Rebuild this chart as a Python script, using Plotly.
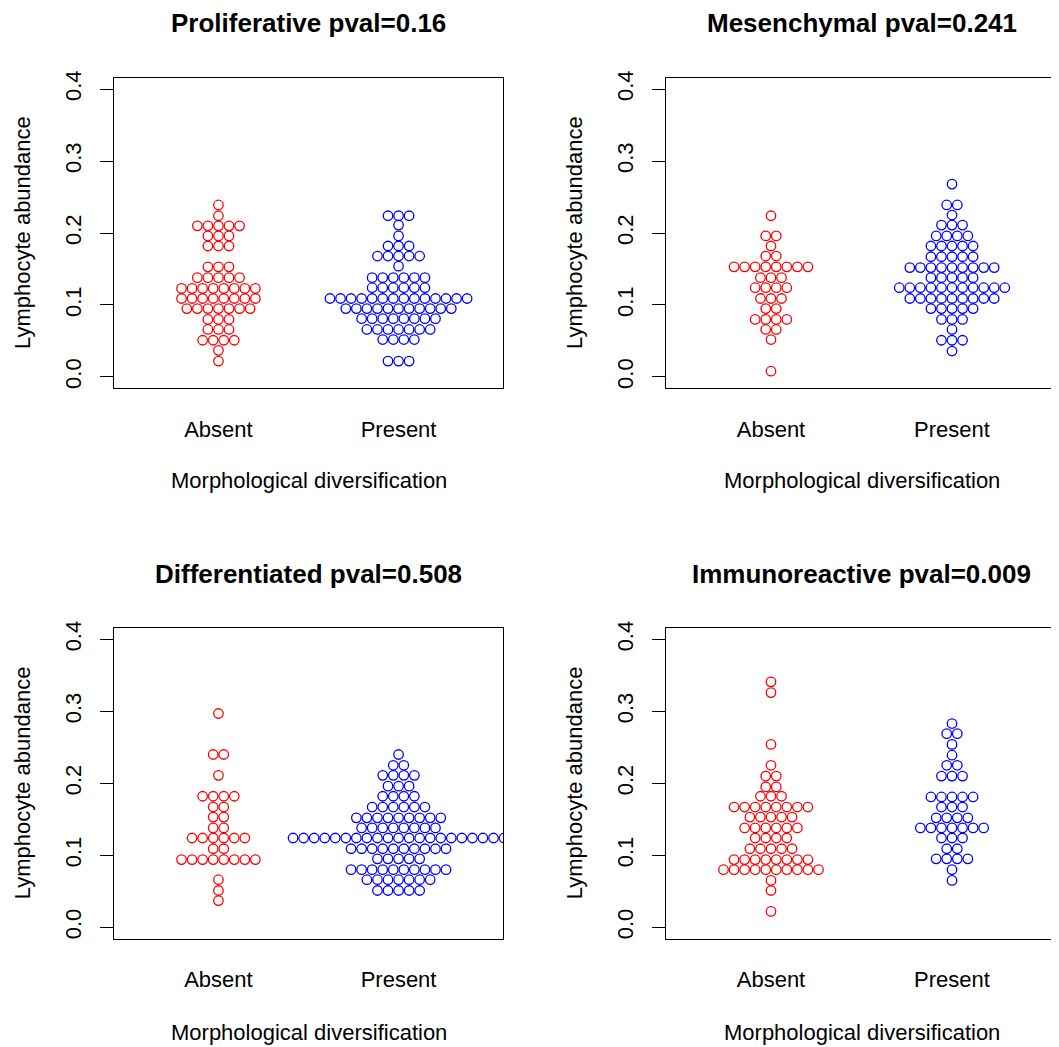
import plotly.graph_objects as go

# ---- data (binned beeswarm rows: y level and number of points in that row) ----
titles = ["Proliferative pval=0.16", "Mesenchymal pval=0.241",
          "Differentiated pval=0.508", "Immunoreactive pval=0.009"]
groups = ["Absent", "Present"]

prolif_absent_y = [0.239, 0.224, 0.210, 0.196, 0.182, 0.153, 0.138, 0.123, 0.109, 0.095, 0.080, 0.066, 0.051, 0.037, 0.022]
prolif_absent_n = [1, 1, 5, 3, 3, 3, 5, 8, 8, 7, 3, 3, 4, 1, 1]
prolif_present_y = [0.224, 0.211, 0.196, 0.182, 0.168, 0.154, 0.138, 0.124, 0.109, 0.095, 0.081, 0.066, 0.052, 0.022]
prolif_present_n = [3, 1, 1, 3, 5, 1, 6, 6, 14, 11, 8, 7, 4, 3]

mesen_absent_y = [0.224, 0.196, 0.182, 0.168, 0.153, 0.138, 0.124, 0.109, 0.095, 0.080, 0.066, 0.052, 0.008]
mesen_absent_n = [1, 2, 1, 2, 8, 3, 4, 3, 2, 4, 2, 1, 1]
mesen_present_y = [0.268, 0.239, 0.225, 0.211, 0.196, 0.182, 0.167, 0.152, 0.138, 0.124, 0.109, 0.095, 0.080, 0.066, 0.051, 0.036]
mesen_present_n = [1, 2, 1, 3, 4, 5, 5, 9, 5, 11, 9, 5, 3, 1, 3, 1]

diff_absent_y = [0.297, 0.240, 0.211, 0.182, 0.167, 0.153, 0.138, 0.124, 0.109, 0.094, 0.066, 0.051, 0.037]
diff_absent_n = [1, 2, 1, 4, 2, 2, 2, 6, 2, 8, 1, 1, 1]
diff_present_y = [0.240, 0.225, 0.211, 0.196, 0.182, 0.167, 0.152, 0.138, 0.124, 0.109, 0.095, 0.080, 0.066, 0.051]
diff_present_n = [1, 2, 4, 3, 4, 6, 9, 8, 21, 10, 5, 10, 7, 5]

immuno_absent_y = [0.341, 0.326, 0.254, 0.225, 0.210, 0.195, 0.182, 0.167, 0.153, 0.138, 0.124, 0.109, 0.094, 0.080, 0.065, 0.051, 0.022]
immuno_absent_n = [1, 1, 1, 1, 2, 2, 3, 8, 5, 6, 4, 5, 8, 10, 1, 1, 1]
immuno_present_y = [0.283, 0.269, 0.254, 0.239, 0.225, 0.210, 0.181, 0.167, 0.152, 0.138, 0.124, 0.109, 0.095, 0.080, 0.065]
immuno_present_n = [1, 2, 1, 1, 2, 3, 5, 3, 4, 7, 3, 2, 4, 1, 1]

ytick_vals = [0.0, 0.1, 0.2, 0.3, 0.4]
ytick_text = ["0.0", "0.1", "0.2", "0.3", "0.4"]

panels = [
    (prolif_absent_y, prolif_absent_n, prolif_present_y, prolif_present_n),
    (mesen_absent_y, mesen_absent_n, mesen_present_y, mesen_present_n),
    (diff_absent_y, diff_absent_n, diff_present_y, diff_present_n),
    (immuno_absent_y, immuno_absent_n, immuno_present_y, immuno_present_n),
]

# ---- layout geometry (target pixels in the 1059x1047 page) ----
OFF = 8                      # default body margin of the html page
W, H = 1059 - OFF, 1047 - OFF
col_px = [(114, 503), (666, 1057)]
row_px = [(71, 384), (625, 938)]
title_py = [16, 571]
xtitle_py = [477, 1032]
XR = [0.42, 2.58]
YR = [-0.016, 0.416]
SPACING_PX = 10.55
COLORS = ["#FF0000", "#0000FF"]
FONT = "Liberation Sans, Arial, Helvetica, sans-serif"


def fx(px):
    return (px - OFF) / W


def fy(py):
    return 1 - (py - OFF) / H


def swarm(levels, counts, center, dx):
    xs, ys = [], []
    for lv, n in zip(levels, counts):
        for i in range(n):
            xs.append(center + (i - (n - 1) / 2.0) * dx)
            ys.append(lv)
    return xs, ys


fig = go.Figure()
layout = dict(
    width=W, height=H, margin=dict(l=0, r=0, t=0, b=0),
    paper_bgcolor="white", plot_bgcolor="white", showlegend=False,
    font=dict(family=FONT, color="black"),
)
annotations = []

for k, (ay, an, py, pn) in enumerate(panels):
    r, c = divmod(k, 2)
    x0, x1 = col_px[c]
    y0, y1 = row_px[r]
    dx = SPACING_PX * (XR[1] - XR[0]) / (x1 - x0)
    suffix = "" if k == 0 else str(k + 1)
    xa, ya = "x" + suffix, "y" + suffix
    for g, (lv, cnt) in enumerate([(ay, an), (py, pn)]):
        xs, ys = swarm(lv, cnt, g + 1, dx)
        fig.add_trace(go.Scatter(
            x=xs, y=ys, mode="markers", xaxis=xa, yaxis=ya,
            marker=dict(symbol="circle-open", size=9.5, color=COLORS[g],
                        line=dict(width=1.3, color=COLORS[g])),
            cliponaxis=True, hoverinfo="skip"))
    layout["xaxis" + suffix] = dict(
        domain=[fx(x0), fx(x1)], range=XR, anchor=ya,
        tickvals=[1, 2], ticktext=groups, ticks="",
        showline=True, mirror=True, linecolor="black", linewidth=1,
        showgrid=False, zeroline=False, fixedrange=True,
        tickfont=dict(size=22, family=FONT), ticklabelstandoff=21)
    layout["yaxis" + suffix] = dict(
        domain=[fy(y1), fy(y0)], range=YR, anchor=xa,
        tickvals=ytick_vals, ticktext=ytick_text, ticks="outside",
        ticklen=13, tickcolor="black", tickwidth=1, tickangle=-90,
        showline=True, mirror=True, linecolor="black", linewidth=1,
        showgrid=False, zeroline=False, fixedrange=True,
        tickfont=dict(size=22, family=FONT), ticklabelstandoff=10)
    cx = fx((x0 + x1) / 2)
    annotations.append(dict(text="<b>%s</b>" % titles[k], x=cx, y=fy(title_py[r]),
                            xref="paper", yref="paper", showarrow=False,
                            xanchor="center", yanchor="middle",
                            font=dict(size=26, family=FONT, color="black")))
    annotations.append(dict(text="Morphological diversification", x=cx,
                            y=fy(xtitle_py[r]), xref="paper", yref="paper",
                            showarrow=False, xanchor="center", yanchor="middle",
                            font=dict(size=22, family=FONT, color="black")))
    annotations.append(dict(text="Lymphocyte abundance", x=fx(x0 - 92),
                            y=fy((y0 + y1) / 2), xref="paper", yref="paper",
                            showarrow=False, xanchor="center", yanchor="middle",
                            textangle=-90,
                            font=dict(size=22, family=FONT, color="black")))

layout["annotations"] = annotations
fig.update_layout(**layout)
fig.write_html("out.html")
